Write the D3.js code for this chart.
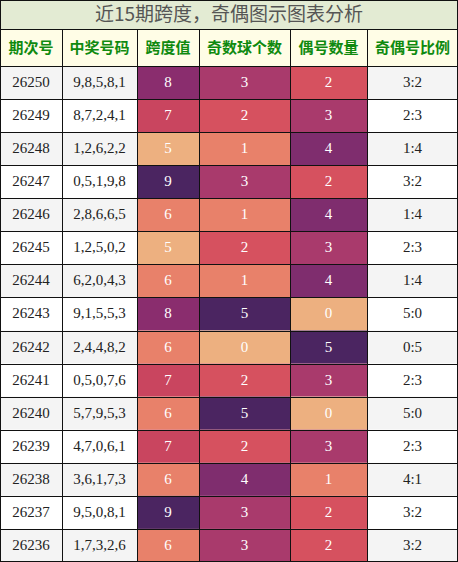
<!DOCTYPE html>
<html><head><meta charset="utf-8">
<script src="https://cdn.jsdelivr.net/npm/d3@7"></script>
<style>body{margin:0;background:#fff}</style>
</head><body><div id="chart"></div>
<script>
const headers = ["期次号", "中奖号码", "跨度值", "奇数球个数", "偶号数量", "奇偶号比例"];
const issues = ["26250","26249","26248","26247","26246","26245","26244","26243","26242","26241","26240","26239","26238","26237","26236"];
const numbers = ["9,8,5,8,1","8,7,2,4,1","1,2,6,2,2","0,5,1,9,8","2,8,6,6,5","1,2,5,0,2","6,2,0,4,3","9,1,5,5,3","2,4,4,8,2","0,5,0,7,6","5,7,9,5,3","4,7,0,6,1","3,6,1,7,3","9,5,0,8,1","1,7,3,2,6"];
const spans = [8,7,5,9,6,5,6,8,6,7,6,7,6,9,6];
const odds = [3,2,1,3,1,2,1,5,0,2,5,2,4,3,3];
const evens = [2,3,4,2,4,3,4,0,5,3,0,3,1,2,2];
const ratios = ["3:2","2:3","1:4","3:2","1:4","2:3","1:4","5:0","0:5","2:3","5:0","2:3","4:1","3:2","3:2"];

const W = 458, H = 562, titleH = 29, headH = 37;
const colEdges = [0, 62, 137, 199, 290, 367, 458];
const rowH = (H - titleH - headH) / issues.length;

const palette = ["#edb080", "#e8816a", "#d6515f", "#a93a6c", "#7f2d6e", "#4b2561"];
const spanColor = d3.scaleOrdinal().domain([5,6,7,8,9]).range([palette[0], palette[1], "#c9455f", "#8a2d6e", palette[5]]);
const oeColor = d3.scaleOrdinal().domain([0,1,2,3,4,5]).range(palette);

const y = d3.scaleBand().domain(d3.range(issues.length)).range([titleH + headH, H]);

const svg = d3.select("#chart").append("svg").attr("width", W).attr("height", H)
    .style("font-family", "'Liberation Serif', serif");

svg.append("rect").attr("width", W).attr("height", titleH).attr("fill", "#e3ebd3");
svg.append("text").attr("x", W / 2).attr("y", titleH / 2 + 1).attr("text-anchor", "middle")
    .attr("dominant-baseline", "middle").attr("font-size", 19).attr("fill", "#555")
    .style("font-family", "'Noto Sans CJK SC'").text("近15期跨度，奇偶图示图表分析");

svg.append("rect").attr("y", titleH).attr("width", W).attr("height", headH).attr("fill", "#fffde6");
headers.forEach((h, i) => {
    svg.append("text").attr("x", (colEdges[i] + colEdges[i + 1]) / 2).attr("y", titleH + headH / 2 + 1)
        .attr("text-anchor", "middle").attr("dominant-baseline", "middle")
        .attr("font-size", 15).attr("font-weight", "bold").attr("fill", "#0f8a0f")
        .style("font-family", "'Noto Sans CJK SC'").text(h);
});

const rows = issues.map((d, i) => [
    { t: d, fill: i % 2 ? "#fff" : "#f4f4f4", c: "#222" },
    { t: numbers[i], fill: i % 2 ? "#fff" : "#f4f4f4", c: "#222" },
    { t: spans[i], fill: spanColor(spans[i]), c: "#fff" },
    { t: odds[i], fill: oeColor(odds[i]), c: "#fff" },
    { t: evens[i], fill: oeColor(evens[i]), c: "#fff" },
    { t: ratios[i], fill: i % 2 ? "#fff" : "#f4f4f4", c: "#222" }
]);

const g = svg.selectAll(".row").data(rows).enter().append("g")
    .attr("transform", (d, i) => `translate(0,${y(i)})`);
g.selectAll("rect").data(d => d).enter().append("rect")
    .attr("x", (d, j) => colEdges[j]).attr("width", (d, j) => colEdges[j + 1] - colEdges[j])
    .attr("height", y.bandwidth()).attr("fill", d => d.fill);
g.selectAll("text").data(d => d).enter().append("text")
    .attr("x", (d, j) => (colEdges[j] + colEdges[j + 1]) / 2).attr("y", y.bandwidth() / 2 + 1)
    .attr("text-anchor", "middle").attr("dominant-baseline", "middle")
    .attr("font-size", 15).attr("fill", d => d.c).text(d => d.t);

// grid lines
const lines = svg.append("g").attr("stroke", "#111").attr("stroke-width", 1);
colEdges.slice(1, -1).forEach(x => lines.append("line").attr("x1", x + 0.5).attr("x2", x + 0.5).attr("y1", titleH).attr("y2", H));
[titleH, titleH + headH].concat(d3.range(1, issues.length).map(i => y(i))).forEach(v =>
    lines.append("line").attr("x1", 0).attr("x2", W).attr("y1", Math.round(v) + 0.5).attr("y2", Math.round(v) + 0.5));
svg.append("rect").attr("x", 0.5).attr("y", 0.5).attr("width", W - 1).attr("height", H - 1)
    .attr("fill", "none").attr("stroke", "#111");
</script></body></html>
